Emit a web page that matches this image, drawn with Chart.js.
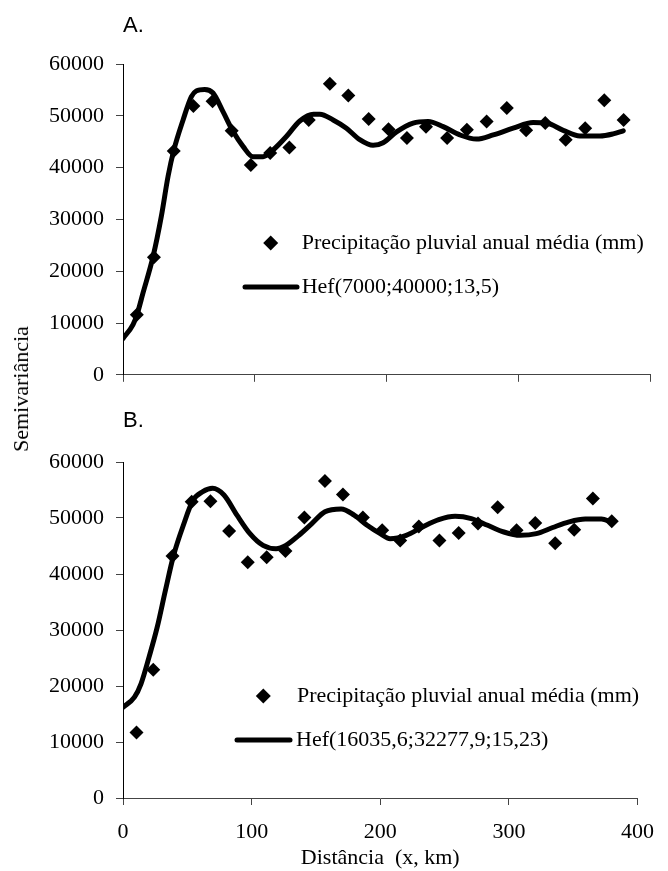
<!DOCTYPE html>
<html>
<head>
<meta charset="utf-8">
<script src="https://cdn.jsdelivr.net/npm/chart.js@4.4.1/dist/chart.umd.min.js"></script>
<style>
html,body{margin:0;padding:0;background:#fff;}
#wrap{position:relative;width:668px;height:871px;overflow:hidden;background:#fff;}
canvas{position:absolute;left:0;}
.lbl{position:absolute;font-family:"Liberation Sans",Arial,sans-serif;font-size:22px;line-height:22px;color:#000;white-space:nowrap;}
#ytitle{position:absolute;left:21px;top:389px;font-family:"Liberation Serif","Times New Roman",serif;font-size:22px;line-height:1;color:#000;transform:translate(-50%,-50%) rotate(-90deg);white-space:nowrap;}
</style>
</head>
<body>
<div id="wrap">
  <canvas id="cA" width="668" height="400" style="top:0;width:668px;height:400px"></canvas>
  <canvas id="cB" width="668" height="471" style="top:400px;width:668px;height:471px"></canvas>
  <div class="lbl" style="left:123px;top:14px">A.</div>
  <div class="lbl" style="left:123px;top:409px">B.</div>
  <div id="ytitle">Semivariância</div>
</div>
<script>
// ---------- data ----------
const lagKm = [10.5, 23.5, 38.5, 53.4, 68, 82.5, 97, 111.7, 126.3, 141, 157, 171, 186.5, 201.5, 215.5, 230, 246, 261, 276, 291.3, 306, 320.5, 336, 350.8, 365.3, 380];
const semivarA = [11600, 22700, 43200, 51900, 52800, 47100, 40500, 42800, 43900, 49200, 56200, 53900, 49400, 47400, 45700, 47900, 45700, 47300, 48900, 51500, 47200, 48600, 45400, 47600, 53000, 49200];
const semivarB = [11700, 22900, 43200, 52900, 53000, 47700, 42100, 43000, 44100, 50100, 56600, 54200, 50100, 47800, 46000, 48500, 46000, 47300, 49000, 51900, 47800, 49100, 45500, 47900, 53500, 49400];

const hefAx = [0, 7.6, 10.6, 15.2, 22.8, 29.1, 34.2, 38.5, 45.6, 51.9, 55.7, 62, 68.3, 75.9, 83.5, 91.1, 98.7, 106.3, 113.9, 124, 134.2, 144.6, 149.4, 159.5, 169.6, 179.7, 189.8, 197.4, 207.6, 220.2, 231.6, 243, 255.7, 268.3, 281, 296.1, 311.3, 321.4, 334.1, 346.8, 362, 372, 379.7];
const hefAy = [7000, 9700, 11600, 15800, 22800, 30600, 38300, 43300, 49200, 53700, 54800, 55100, 54400, 50800, 47000, 44100, 42100, 42100, 43400, 46000, 49000, 50300, 50300, 49200, 47600, 45400, 44300, 44800, 46900, 48600, 48900, 47900, 46300, 45500, 46300, 47600, 48700, 48600, 47200, 46100, 46100, 46500, 47100];

const hefBx = [0, 8.9, 14, 20.3, 26.6, 33, 39.3, 46.9, 54.5, 62, 69.6, 78.5, 88.6, 98.7, 108.9, 119, 126.6, 136.7, 146.8, 157, 169.6, 179.7, 189.8, 200, 207.6, 220.2, 232.9, 245.5, 258.2, 270.8, 283.5, 296.1, 308.8, 321.4, 334.1, 346.8, 359.4, 372, 379.7];
const hefBy = [16200, 18000, 20400, 25200, 30500, 37100, 43300, 48700, 53200, 54700, 55300, 54100, 50500, 47200, 45100, 44500, 45100, 46900, 49000, 51100, 51600, 50500, 48700, 47200, 46300, 46900, 48400, 49700, 50300, 49900, 48700, 47500, 46900, 47200, 48300, 49300, 49800, 49800, 49300];

const yTicks = [0, 10000, 20000, 30000, 40000, 50000, 60000];
const xTicks = [0, 100, 200, 300, 400];
const pointLabel = 'Precipitação pluvial anual média (mm)';
const modelLabelA = 'Hef(7000;40000;13,5)';
const modelLabelB = 'Hef(16035,6;32277,9;15,23)';
const xTitle = 'Distância  (x, km)';

// ---------- helpers ----------
const SERIF = '"Liberation Serif", "Times New Roman", serif';
const toXY = (xs, ys) => xs.map((x, i) => ({ x: x, y: ys[i] }));

const customLegend = {
  id: 'customLegend',
  afterDraw(chart, args, opts) {
    const ctx = chart.ctx;
    const ds = chart.data.datasets;
    ctx.save();
    ctx.fillStyle = '#000';
    ctx.strokeStyle = '#000';
    ctx.font = '22px ' + SERIF;
    ctx.textBaseline = 'middle';
    ctx.textAlign = 'left';
    // row 1: diamond marker
    const r = 7.5;
    ctx.beginPath();
    ctx.moveTo(opts.mx, opts.y1 - r);
    ctx.lineTo(opts.mx + r, opts.y1);
    ctx.lineTo(opts.mx, opts.y1 + r);
    ctx.lineTo(opts.mx - r, opts.y1);
    ctx.closePath();
    ctx.fill();
    ctx.fillText(ds[0].label, opts.tx1, opts.y1);
    // row 2: thick line
    ctx.lineWidth = 5;
    ctx.lineCap = 'round';
    ctx.beginPath();
    ctx.moveTo(opts.lx0, opts.y2);
    ctx.lineTo(opts.lx1, opts.y2);
    ctx.stroke();
    ctx.fillText(ds[1].label, opts.tx2, opts.y2);
    ctx.restore();
  }
};

function makeChart(canvasId, pts, hx, hy, modelLabel, showXLabels, padTop, xAxisHeight, legendPos) {
  return new Chart(document.getElementById(canvasId), {
    type: 'scatter',
    data: {
      datasets: [
        {
          label: pointLabel,
          data: toXY(lagKm, pts),
          pointStyle: 'rectRot',
          pointRadius: 7,
          pointHoverRadius: 7,
          backgroundColor: '#000',
          borderColor: '#000',
          borderWidth: 0,
          showLine: false,
          order: 0
        },
        {
          label: modelLabel,
          data: toXY(hx, hy),
          showLine: true,
          pointRadius: 0,
          pointHoverRadius: 0,
          borderColor: '#000',
          backgroundColor: '#000',
          borderWidth: 5,
          cubicInterpolationMode: 'monotone',
          borderCapStyle: 'round',
          borderJoinStyle: 'round',
          fill: false,
          order: 1
        }
      ]
    },
    options: {
      responsive: false,
      animation: false,
      devicePixelRatio: 1,
      layout: { padding: { top: padTop, right: 18, bottom: 0, left: 0 } },
      plugins: {
        legend: { display: false },
        tooltip: { enabled: false },
        customLegend: legendPos
      },
      scales: {
        x: {
          type: 'linear',
          min: 0,
          max: 400,
          afterBuildTicks: s => { s.ticks = xTicks.map(v => ({ value: v })); },
          afterFit: s => { s.height = xAxisHeight; },
          border: { display: true, color: '#444', width: 1 },
          grid: { display: true, drawOnChartArea: false, drawTicks: true, tickLength: 7, color: '#444' },
          ticks: {
            display: showXLabels,
            padding: 14,
            color: '#000',
            font: { family: SERIF, size: 22 },
            maxRotation: 0,
            callback: v => String(v)
          },
          title: {
            display: showXLabels,
            text: xTitle,
            color: '#000',
            font: { family: SERIF, size: 22 },
            padding: 0
          }
        },
        y: {
          type: 'linear',
          min: 0,
          max: 60000,
          afterBuildTicks: s => { s.ticks = yTicks.map(v => ({ value: v })); },
          afterFit: s => { s.width = 123; },
          border: { display: true, color: '#000', width: 1 },
          grid: { display: true, drawOnChartArea: false, drawTicks: true, tickLength: 7, color: '#444' },
          ticks: {
            padding: 12,
            color: '#000',
            font: { family: SERIF, size: 22 },
            callback: v => String(v)
          }
        }
      }
    },
    plugins: [customLegend]
  });
}

makeChart('cA', semivarA, hefAx, hefAy, modelLabelA, false, 64, 25,
  { mx: 270.7, y1: 243, tx1: 301.7, lx0: 245, lx1: 297, y2: 287, tx2: 301.7 });
makeChart('cB', semivarB, hefBx, hefBy, modelLabelB, true, 62, 73,
  { mx: 263.3, y1: 296, tx1: 297, lx0: 237, lx1: 290, y2: 340, tx2: 296 });
</script>
</body>
</html>
